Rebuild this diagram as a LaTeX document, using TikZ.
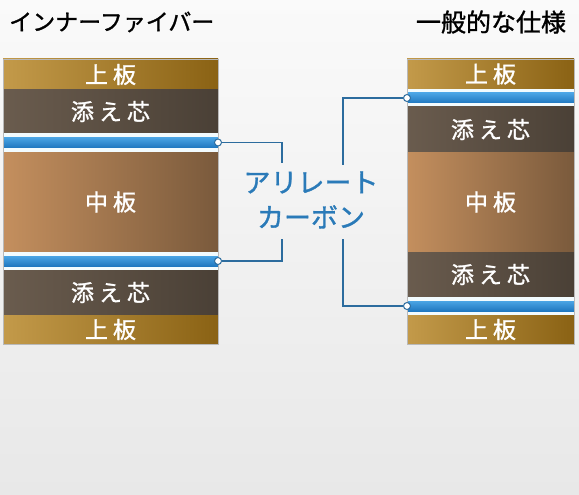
\documentclass[tikz,border=0pt]{standalone}
\usepackage{fontspec}
\newfontfamily\jp{Noto Sans CJK JP}
\newfontfamily\jpb{Noto Sans CJK JP}[FakeBold=1.2]
\usetikzlibrary{positioning}

\definecolor{uwaL}{HTML}{C39A4A}
\definecolor{uwaR}{HTML}{8A6214}
\definecolor{soeL}{HTML}{6A5C4E}
\definecolor{soeR}{HTML}{4A4036}
\definecolor{nakaL}{HTML}{C48F5E}
\definecolor{nakaR}{HTML}{7A5A3C}
\definecolor{bandT}{HTML}{4AA4E4}
\definecolor{bandB}{HTML}{2078C0}
\definecolor{gapwhite}{HTML}{F2FBFE}
\definecolor{linkblue}{HTML}{2C6C9E}
\definecolor{arblue}{HTML}{2A7AB8}
\definecolor{bgtop}{HTML}{FAFAFA}
\definecolor{bgbot}{HTML}{E8E8E8}

\newcommand{\ksp}{\hspace{5pt}}

\tikzset{
    layer/.style={anchor=north, inner sep=0pt, outer sep=0pt, text=white,
        font=\jpb\fontsize{23}{23}\selectfont},
    uwa/.style={layer, left color=uwaL, right color=uwaR},
    soe/.style={layer, left color=soeL, right color=soeR},
    naka/.style={layer, left color=nakaL, right color=nakaR},
    gap/.style={anchor=north, inner sep=0pt, outer sep=0pt, fill=gapwhite},
    band/.style={inner sep=0pt, outer sep=0pt, minimum height=10pt,
        top color=bandT, bottom color=bandB},
    joint/.style={circle, draw=linkblue, fill=white, line width=1pt,
        inner sep=0pt, minimum size=7pt},
    link/.style={draw=linkblue, line width=1.6pt},
    title/.style={font=\jpb\fontsize{23}{23}\selectfont, text=black, inner sep=0pt}
}

\begin{document}
\begin{tikzpicture}[x=1pt, y=-1pt]
    \useasboundingbox (0,0) rectangle (579,495);
    \shade[top color=bgtop, bottom color=bgbot] (0,0) rectangle (579,495);

    % titles
    \node[title, anchor=west] (ttl) at (9,22) {インナーファイバー};
    \node[title, font=\jpb\fontsize{25}{25}\selectfont] (ttr) at (491,22) {一般的な仕様};

    % inner fiber stack
    \begin{scope}[every node/.append style={minimum width=215pt}]
        \node[uwa, minimum height=31pt] (lup) at (110.5,59) {上\ksp 板};
        \node[soe, minimum height=43pt, below=0pt of lup] (lsoe) {添\ksp え\ksp 芯};
        \node[gap, minimum height=19pt, below=0pt of lsoe] (lgap) {};
        \node[naka, minimum height=100pt, below=0pt of lgap] (lnaka) {中\ksp 板};
        \node[gap, minimum height=18pt, below=0pt of lnaka] (lgap2) {};
        \node[soe, minimum height=45pt, below=0pt of lgap2] (lsoe2) {添\ksp え\ksp 芯};
        \node[uwa, minimum height=29pt, below=0pt of lsoe2] (lup2) {上\ksp 板};
        \node[band] (lcb) at (lgap) {};
        \node[band] (lcb2) at (lgap2) {};
    \end{scope}
    \draw[gray!55] (lup.north west) rectangle (lup2.south east);

    % standard stack
    \begin{scope}[every node/.append style={minimum width=167pt}]
        \node[uwa, minimum height=30pt] (rup) at (490.5,59) {上\ksp 板};
        \node[gap, minimum height=18pt, below=0pt of rup] (rgap) {};
        \node[soe, minimum height=45pt, below=0pt of rgap] (rsoe) {添\ksp え\ksp 芯};
        \node[naka, minimum height=100pt, below=0pt of rsoe] (rnaka) {中\ksp 板};
        \node[soe, minimum height=45pt, below=0pt of rnaka] (rsoe2) {添\ksp え\ksp 芯};
        \node[gap, minimum height=18pt, below=0pt of rsoe2] (rgap2) {};
        \node[uwa, minimum height=29pt, below=0pt of rgap2] (rup2) {上\ksp 板};
        \node[band] (rcb) at (rgap) {};
        \node[band] (rcb2) at (rgap2) {};
    \end{scope}
    \draw[gray!55] (rup.north west) rectangle (rup2.south east);

    % label and connectors
    \node[font=\jpb\fontsize{27}{35}\selectfont, text=arblue, align=center,
        inner sep=0pt] (ar) at (311,200) {アリレート\\カーボン};
    \coordinate (lt) at (282,163);
    \coordinate (lb) at (282,239);
    \coordinate (rt) at (343,165);
    \coordinate (rb) at (343,239);

    \node[joint] (lj) at (lcb.east) {};
    \node[joint] (lj2) at (lcb2.east) {};
    \node[joint] (rj) at (rcb.west) {};
    \node[joint] (rj2) at (rcb2.west) {};

    \draw[link] (lj) -| (lt);
    \draw[link] (lj2) -| (lb);
    \draw[link] (rj) -| (rt);
    \draw[link] (rj2) -| (rb);
\end{tikzpicture}
\end{document}
